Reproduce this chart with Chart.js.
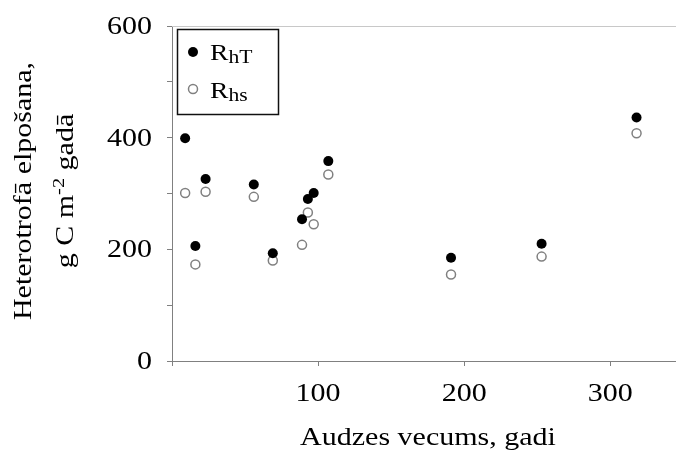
<!DOCTYPE html>
<html>
<head>
<meta charset="utf-8">
<script src="https://cdn.jsdelivr.net/npm/chart.js@4"></script>
<style>
  html, body { margin: 0; padding: 0; background: #fff; overflow: hidden; }
</style>
</head>
<body>
<canvas id="myChart" width="676" height="452"></canvas>
<script>
// Datos (edad del rodal en años y respiración en g C m-2 año)
const edades = [9, 16, 23, 56, 69, 89, 93, 97, 107, 191, 253, 318];
const rhT = [399, 206, 326, 316, 193, 254, 290, 301, 358, 185, 210, 436];
const rhS = [301, 173, 303, 294, 180, 208, 266, 245, 334, 155, 187, 408];
const ticksY = [0, 200, 400, 600];
const ticksX = [100, 200, 300];

const FUENTE = '"Liberation Serif", "Times New Roman", serif';
const ESTIRA = 1.2;  // el texto del original está algo ensanchado

// Dibuja un texto formado por partes (para subíndices / superíndices)
function dibujaPartes(ctx, partes, x, y, align, rot) {
  ctx.save();
  ctx.translate(x, y);
  if (rot) ctx.rotate(rot);
  ctx.scale(ESTIRA, 1);
  ctx.textBaseline = 'alphabetic';
  ctx.fillStyle = '#000';
  let total = 0;
  partes.forEach((p) => {
    ctx.font = p.size + 'px ' + FUENTE;
    p.w = ctx.measureText(p.t).width;
    total += p.w;
  });
  let cx = align === 'right' ? -total : align === 'left' ? 0 : -total / 2;
  partes.forEach((p) => {
    ctx.font = p.size + 'px ' + FUENTE;
    ctx.textAlign = 'left';
    ctx.fillText(p.t, cx, p.dy || 0);
    cx += p.w;
  });
  ctx.restore();
}

function texto(ctx, t, x, y, align, rot) {
  dibujaPartes(ctx, [{ t: t, size: 25 }], x, y, align, rot);
}

function marcador(ctx, x, y, relleno) {
  ctx.beginPath();
  if (relleno) {
    ctx.arc(x, y, 5, 0, Math.PI * 2);
    ctx.fillStyle = '#000';
    ctx.fill();
  } else {
    ctx.arc(x, y, 4.5, 0, Math.PI * 2);
    ctx.fillStyle = '#fff';
    ctx.fill();
    ctx.lineWidth = 1.5;
    ctx.strokeStyle = '#808080';
    ctx.stroke();
  }
}

const textos = {
  id: 'textos',
  afterDraw(chart) {
    const ctx = chart.ctx;
    const xs = chart.scales.x;
    const ys = chart.scales.y;
    const area = chart.chartArea;

    // línea superior del área
    ctx.save();
    ctx.strokeStyle = '#c8c8c8';
    ctx.lineWidth = 1;
    ctx.beginPath();
    ctx.moveTo(area.left, Math.round(area.top) + 0.5);
    ctx.lineTo(area.right, Math.round(area.top) + 0.5);
    ctx.stroke();
    ctx.restore();

    // etiquetas de los ejes
    ticksY.forEach((v) => texto(ctx, String(v), 152, ys.getPixelForValue(v) + 8, 'right'));
    ticksX.forEach((v) => texto(ctx, String(v), xs.getPixelForValue(v), 401, 'center'));

    // títulos
    texto(ctx, 'Audzes vecums, gadi', 428, 445, 'center');
    texto(ctx, 'Heterotrofā elpošana,', 31, 191, 'center', -Math.PI / 2);
    dibujaPartes(ctx, [
      { t: 'g C m', size: 25 },
      { t: '-2', size: 17, dy: -9 },
      { t: ' gadā', size: 25 }
    ], 73, 191, 'center', -Math.PI / 2);

    // leyenda
    ctx.save();
    ctx.strokeStyle = '#111';
    ctx.lineWidth = 1.5;
    ctx.strokeRect(177.5, 29.5, 101, 85);
    ctx.restore();
    marcador(ctx, 193, 52, true);
    marcador(ctx, 193, 89, false);
    dibujaPartes(ctx, [{ t: 'R', size: 23 }, { t: 'hT', size: 18, dy: 3 }], 210, 60, 'left');
    dibujaPartes(ctx, [{ t: 'R', size: 23 }, { t: 'hs', size: 18, dy: 3 }], 210, 98, 'left');
  }
};

const ctx = document.getElementById('myChart');

new Chart(ctx, {
  type: 'scatter',
  data: {
    datasets: [{
      label: 'RhT',
      data: edades.map((x, i) => ({ x: x, y: rhT[i] })),
      pointRadius: 5,
      pointBackgroundColor: '#000',
      pointBorderColor: '#000',
      pointBorderWidth: 0
    }, {
      label: 'Rhs',
      data: edades.map((x, i) => ({ x: x, y: rhS[i] })),
      pointRadius: 4.5,
      pointBackgroundColor: '#fff',
      pointBorderColor: '#808080',
      pointBorderWidth: 1.5
    }]
  },
  options: {
    responsive: false,
    animation: false,
    layout: { autoPadding: false, padding: { top: 26, right: 0, bottom: 0, left: 0 } },
    plugins: {
      legend: { display: false },
      tooltip: { enabled: false }
    },
    scales: {
      x: {
        type: 'linear',
        position: 'bottom',
        min: 0,
        max: 345,
        ticks: { stepSize: 100, includeBounds: false, color: 'rgba(0,0,0,0)' },
        grid: { drawOnChartArea: false, drawTicks: true, tickLength: 5, color: '#808080' },
        border: { color: '#808080', width: 1 },
        afterFit: (s) => { s.height = 91; }
      },
      y: {
        min: 0,
        max: 600,
        ticks: { stepSize: 100, color: 'rgba(0,0,0,0)' },
        grid: { drawOnChartArea: false, drawTicks: true, tickLength: 5, color: '#808080' },
        border: { color: '#808080', width: 1 },
        afterFit: (s) => { s.width = 172; }
      }
    }
  },
  plugins: [textos]
});
</script>
</body>
</html>
